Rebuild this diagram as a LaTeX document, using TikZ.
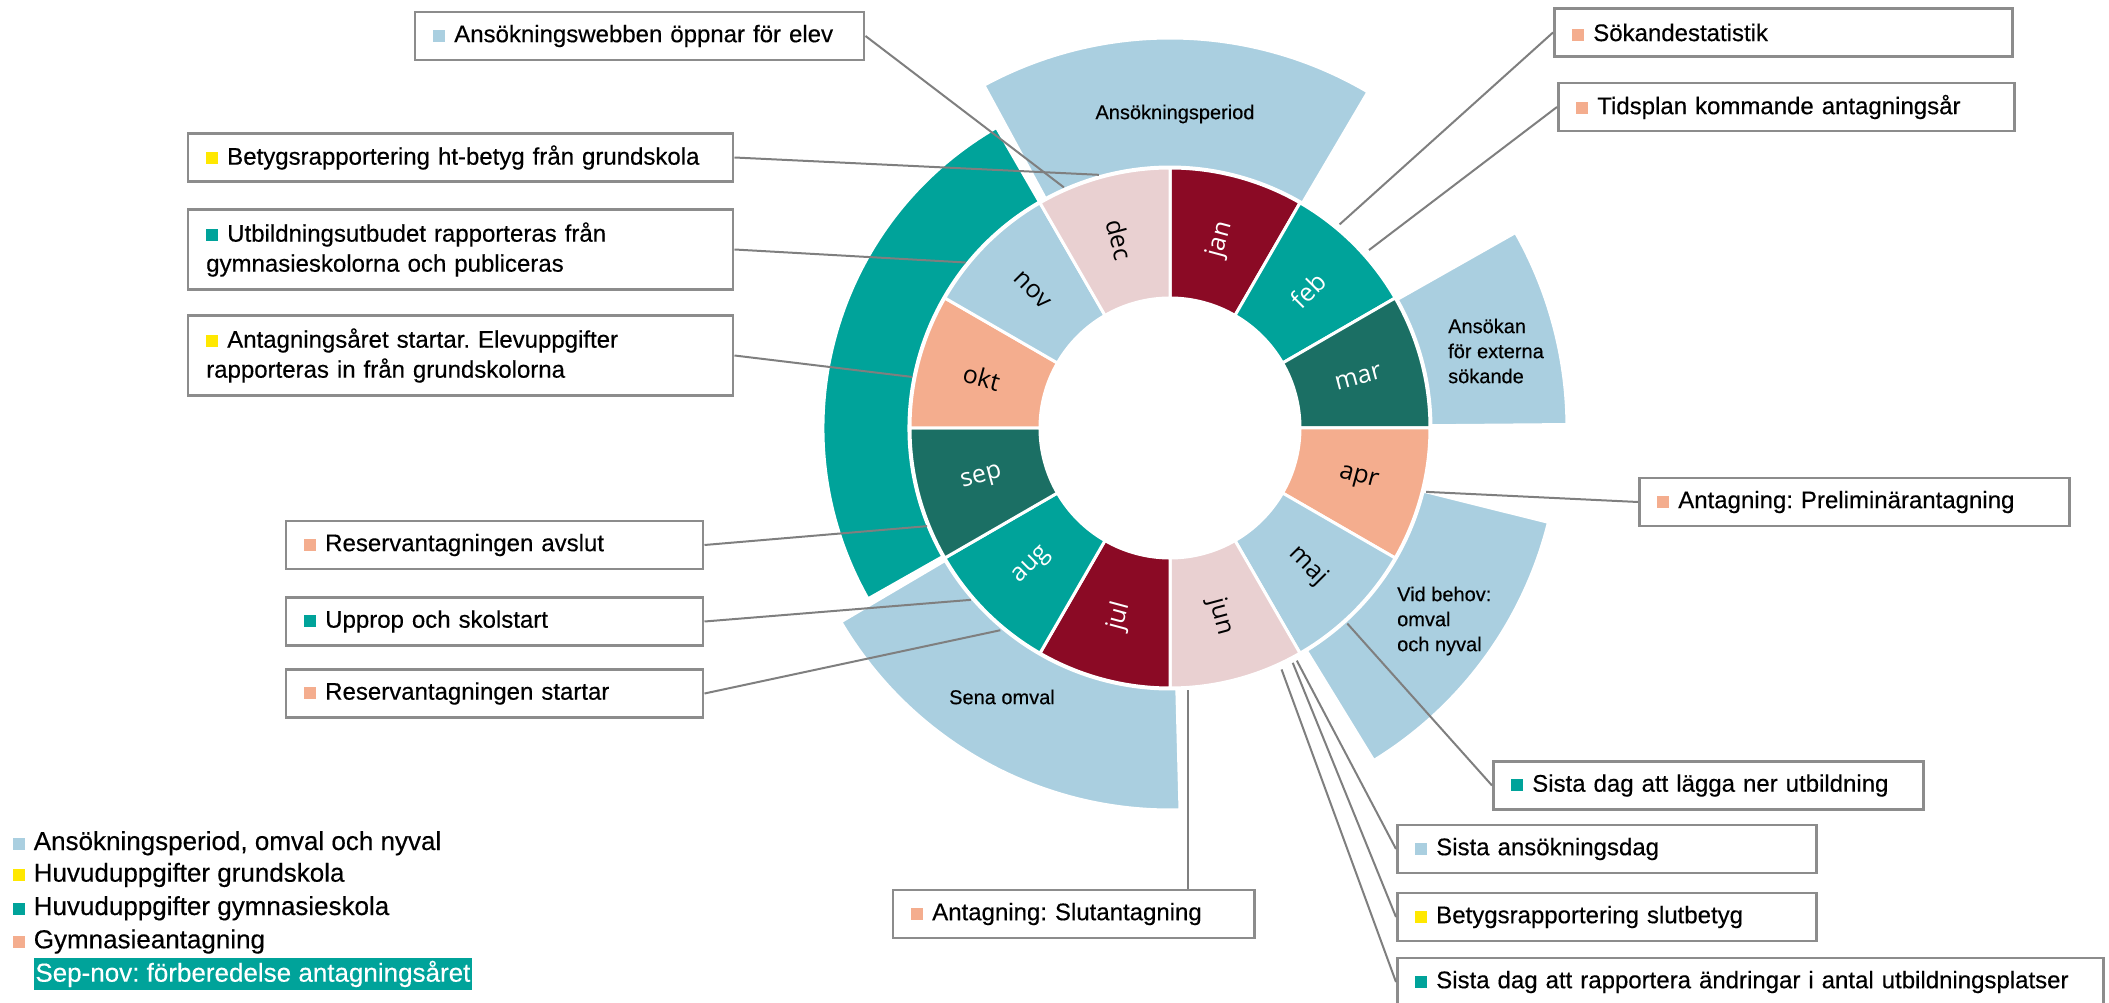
\documentclass[tikz,border=0pt]{standalone}
\usepackage{fontspec}
\setmainfont{Liberation Sans}[FakeBold=0.35]
\newfontfamily\manadfont{Open Sans}
\usetikzlibrary{positioning,calc}
\definecolor{ljusbla}{HTML}{AACFE0}
\definecolor{gul}{HTML}{FFE800}
\definecolor{turkos}{HTML}{00A39A}
\definecolor{morkgron}{HTML}{1B6F64}
\definecolor{vinrod}{HTML}{8B0A25}
\definecolor{laxrosa}{HTML}{F4AD8E}
\definecolor{ljusrosa}{HTML}{E9D0D1}
\definecolor{linjegra}{HTML}{7F7F7F}
\definecolor{ramgra}{HTML}{8C8C8C}
\frenchspacing
\newcommand{\kvad}[1]{\textcolor{#1}{\rule[0.5pt]{12pt}{12pt}}\hspace{9pt}}
\tikzset{
  ruta/.style={rectangle, draw=ramgra, line width=2.5pt, fill=white, minimum height=48pt, inner xsep=18pt, inner ysep=0pt, anchor=west, align=left, text width=#1, font=\fontsize{24}{30}\selectfont},
  dubbel/.style={minimum height=80pt},
  linje/.style={draw=linjegra, line width=2pt},
  band/.style={draw=white, line width=3pt},
  sektor/.style={draw=white, line width=3pt},
  manadtext/.style={font=\manadfont\fontsize{25}{25}\selectfont, inner sep=0pt},
  bandtext/.style={font=\fontsize{20}{25}\selectfont, align=left, inner sep=0pt},
  legend/.style={anchor=base west, inner sep=0pt, font=\fontsize{26}{30}\selectfont}
}

\begin{document}
\begin{tikzpicture}[x=1pt, y=1pt]
	\useasboundingbox (-1170,-575) rectangle (939,428);
	% yttre band
	\foreach \fr/\ti/\yr/\fg in {59.5/118.5/390/ljusbla, 120/209.5/347/turkos, 210.5/271.5/382/ljusbla, -58.5/-14/390/ljusbla, 0.5/29.5/397/ljusbla}
		\path[band, fill=\fg] (\fr:261) arc[start angle=\fr, end angle=\ti, radius=261pt] -- (\ti:\yr) arc[start angle=\ti, end angle=\fr, radius=\yr pt] -- cycle;
	% manader
	\foreach \m/\fg/\tf [count=\i] in {jan/vinrod/white, feb/turkos/white, mar/morkgron/white, apr/laxrosa/black, maj/ljusbla/black, jun/ljusrosa/black, jul/vinrod/white, aug/turkos/white, sep/morkgron/white, okt/laxrosa/black, nov/ljusbla/black, dec/ljusrosa/black} {
		\pgfmathsetmacro\s{120-30*\i}
		\pgfmathsetmacro\e{90-30*\i}
		\pgfmathsetmacro\mid{105-30*\i}
		\pgfmathsetmacro\rot{\i>6 ? \mid+180 : \mid}
		\path[sektor, fill=\fg] (\s:130) arc[start angle=\s, end angle=\e, radius=130pt] -- (\e:260) arc[start angle=\e, end angle=\s, radius=260pt] -- cycle;
		\node[manadtext, text=\tf, rotate=\rot] (\m) at (\mid:195) {\m};
	}
	%
	\node[bandtext] (t-period) at (5,314) {Ansökningsperiod};
	\node[bandtext, anchor=west] (t-extern) at (278,77) {Ansökan\\för externa\\sökande};
	\node[bandtext, anchor=west] (t-behov) at (227,-193) {Vid behov:\\omval\\och nyval};
	\node[bandtext] (t-sena) at (-168,-269) {Sena omval};
	%
	\node[ruta=413pt] (webb) at (-756,392) {\kvad{ljusbla}Ansökningswebben öppnar för elev};
	\node[ruta=509pt] (htbetyg) at (-983,270.5) {\kvad{gul}Betygsrapportering ht-betyg från grundskola};
	\node[ruta=509pt, dubbel] (utbud) at (-983,178.5) {\kvad{turkos}Utbildningsutbudet rapporteras från\\gymnasieskolorna och publiceras};
	\node[ruta=509pt, dubbel] (antar) at (-983,72.5) {\kvad{gul}Antagningsåret startar. Elevuppgifter\\rapporteras in från grundskolorna};
	\node[ruta=381pt] (resavslut) at (-885,-117) {\kvad{laxrosa}Reservantagningen avslut};
	\node[ruta=381pt] (upprop) at (-885,-193.5) {\kvad{turkos}Upprop och skolstart};
	\node[ruta=381pt] (resstart) at (-885,-265.5) {\kvad{laxrosa}Reservantagningen startar};
	\node[ruta=325pt] (slutant) at (-278,-486) {\kvad{laxrosa}Antagning: Slutantagning};
	\node[ruta=394pt] (prelim) at (468,-74) {\kvad{laxrosa}Antagning: Preliminärantagning};
	\node[ruta=394pt] (lagganer) at (322,-357.5) {\kvad{turkos}Sista dag att lägga ner utbildning};
	\node[ruta=383pt] (sistaans) at (226,-421) {\kvad{ljusbla}Sista ansökningsdag};
	\node[ruta=383pt] (slutbetyg) at (226,-489) {\kvad{gul}Betygsrapportering slutbetyg};
	\node[ruta=670pt] (andringar) at (226,-554) {\kvad{turkos}Sista dag att rapportera ändringar i antal utbildningsplatser};
	\node[ruta=422pt] (sokstat) at (383,395.5) {\kvad{laxrosa}Sökandestatistik};
	\node[ruta=420pt] (tidsplan) at (387,321) {\kvad{laxrosa}Tidsplan kommande antagningsår};
	%
	\coordinate (c-slut) at (-86:263);
	\draw[linje] (webb.east) -- (113.8:263);
	\draw[linje] (htbetyg.east) -- (105.7:263);
	\draw[linje] (utbud.east) -- (141:263);
	\draw[linje] (antar.east) -- (168.8:263);
	\draw[linje] (resavslut.east) -- (202:262);
	\draw[linje] (upprop.east) -- (220.8:263);
	\draw[linje] (resstart.east) -- (230:264);
	\draw[linje] (c-slut) -- (c-slut |- slutant.north);
	\draw[linje] (prelim.west) -- (-14:264);
	\draw[linje] (lagganer.west) -- (-47.8:264);
	\draw[linje] (sistaans.west) -- (-61.4:265);
	\draw[linje] (slutbetyg.west) -- (-62.4:265);
	\draw[linje] (andringar.west) -- (-65.2:266);
	\draw[linje] (sokstat.west) -- (50.2:265);
	\draw[linje] (tidsplan.west) -- (41.8:267);
	%
	\node[legend] (leg-ans) at (-1157.4,-422) {\kvad{ljusbla}Ansökningsperiod, omval och nyval};
	\node[legend] (leg-grund) at (-1157.4,-453.7) {\kvad{gul}Huvuduppgifter grundskola};
	\node[legend] (leg-gymn) at (-1157.4,-487) {\kvad{turkos}Huvuduppgifter gymnasieskola};
	\node[legend] (leg-antag) at (-1157.4,-520.3) {\kvad{laxrosa}Gymnasieantagning};
	\node[legend, fill=turkos, text=white, inner xsep=1.5pt, inner ysep=2.5pt, text height=21pt, text depth=6pt] (leg-sepnov) at (-1136.3,-553.7) {Sep-nov: förberedelse antagningsåret};
\end{tikzpicture}
\end{document}
